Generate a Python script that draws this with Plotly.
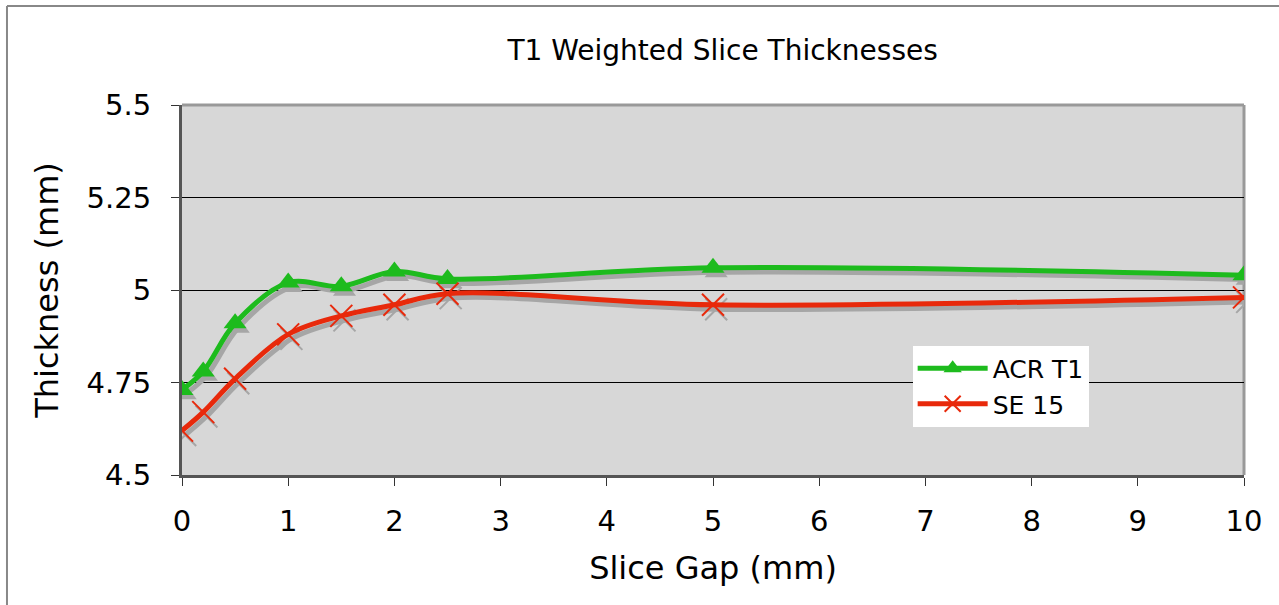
import plotly.graph_objects as go

# Slice gap settings (mm)
slice_gap = [0, 0.2, 0.5, 1, 1.5, 2, 2.5, 5, 10]

# Measured slice thickness (mm) per sequence
acr_t1 = [4.73, 4.78, 4.91, 5.02, 5.01, 5.05, 5.03, 5.06, 5.04]
se_15 = [4.62, 4.67, 4.76, 4.88, 4.93, 4.96, 4.99, 4.96, 4.98]

series_names = ["ACR T1", "SE 15"]
y_ticks = [4.5, 4.75, 5, 5.25, 5.5]
y_tick_text = ["4.5", "4.75", "5", "5.25", "5.5"]
x_ticks = list(range(0, 11))

GREEN = "#1dbb1d"
RED = "#e8290b"
SHADOW = "#a6a6a6"
FONT = "DejaVu Sans, Verdana, sans-serif"

# drop-shadow offset in data units (a few pixels right and down)
DX, DY = 0.03, 0.012

fig = go.Figure()


def add_series(y, name, color, symbol, msize, mline):
    xs = [v + DX for v in slice_gap]
    ys = [v - DY for v in y]
    fig.add_trace(go.Scatter(
        x=xs, y=ys, mode="lines+markers", showlegend=False, hoverinfo="skip",
        line=dict(color=SHADOW, width=5, shape="spline", smoothing=1.0),
        marker=dict(symbol=symbol, size=msize, color=SHADOW,
                    line=dict(color=SHADOW, width=mline)),
    ))
    fig.add_trace(go.Scatter(
        x=slice_gap, y=y, mode="lines+markers", name=name,
        line=dict(color=color, width=5, shape="spline", smoothing=1.0),
        marker=dict(symbol=symbol, size=msize, color=color,
                    line=dict(color=color, width=mline)),
    ))


add_series(acr_t1, series_names[0], GREEN, "triangle-up", 20, 0)
add_series(se_15, series_names[1], RED, "x-thin", 22, 2)

shapes = [
    # gray border on the top and right of the plotting area
    dict(type="line", xref="paper", yref="paper", x0=0, x1=1, y0=1, y1=1,
         line=dict(color="#999999", width=3), layer="between"),
    dict(type="line", xref="paper", yref="paper", x0=1, x1=1, y0=0, y1=1,
         line=dict(color="#999999", width=3), layer="between"),
    # outer chart frame
    dict(type="line", xref="paper", yref="paper", x0=-0.1648, x1=1.04,
         y0=1.2676, y1=1.2676, line=dict(color="#888888", width=2)),
    dict(type="line", xref="paper", yref="paper", x0=-0.1648, x1=-0.1648,
         y0=-0.4, y1=1.2676, line=dict(color="#888888", width=2)),
]

fig.update_layout(
    width=1279, height=605,
    margin=dict(l=182, r=35, t=105, b=130),
    paper_bgcolor="white",
    plot_bgcolor="#d7d7d7",
    font=dict(family=FONT, color="black"),
    title=dict(text="T1 Weighted Slice Thicknesses", x=0.565, xanchor="center",
               y=1 - 50 / 605, yanchor="middle", font=dict(size=28, family=FONT)),
    xaxis=dict(
        range=[0, 10], tickvals=x_ticks, showgrid=False, zeroline=False,
        showline=True, linecolor="#555555", linewidth=3,
        ticks="outside", ticklen=8, tickcolor="#333333", tickwidth=1,
        tickfont=dict(size=29), ticklabelstandoff=10,
        title=dict(text="Slice Gap (mm)", font=dict(size=32), standoff=20),
    ),
    yaxis=dict(
        range=[4.5, 5.5], tickvals=y_ticks, ticktext=y_tick_text,
        showgrid=True, gridcolor="black", gridwidth=1, zeroline=False,
        showline=True, linecolor="#555555", linewidth=3,
        ticks="outside", ticklen=8, tickcolor="#333333", tickwidth=1,
        tickfont=dict(size=29), ticklabelstandoff=14,
        title=dict(text="Thickness (mm)", font=dict(size=32), standoff=19),
    ),
    legend=dict(
        x=0.688, y=0.35, xanchor="left", yanchor="top",
        bgcolor="white", borderwidth=0, font=dict(size=25, family=FONT),
        tracegroupgap=2, itemwidth=70,
    ),
    shapes=shapes,
    showlegend=True,
)

fig.write_html("out.html")
